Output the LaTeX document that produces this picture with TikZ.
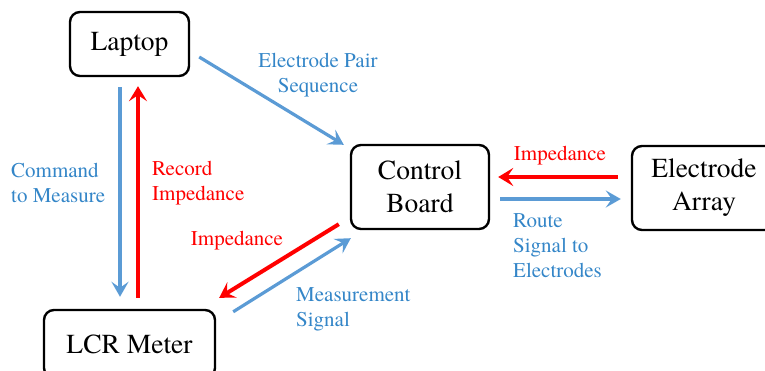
\documentclass[tikz,border=0pt]{standalone}
\usepackage{fontspec}
\setmainfont{TeX Gyre Termes}
\usepackage{tikz}
\usetikzlibrary{arrows.meta,calc}
\definecolor{arrowblue}{RGB}{91,155,213}
\definecolor{textblue}{RGB}{52,134,200}
\definecolor{arrowred}{RGB}{255,0,0}
\tikzstyle{block} = [draw=black, fill=white, line width=2.4pt,
    rectangle, rounded corners=10pt, align=center,
    font=\fontsize{27.5}{33}\selectfont]
\tikzstyle{bluelabel} = [text=textblue, inner sep=0pt,
    font=\fontsize{21}{25}\selectfont]
\tikzstyle{redlabel} = [text=arrowred, inner sep=0pt,
    font=\fontsize{21}{25}\selectfont]
\tikzstyle{bluearrow} = [draw=arrowblue, line width=3.2pt,
    -{Stealth[length=15pt, width=17pt, inset=6pt]}]
\tikzstyle{redarrow} = [draw=arrowred, line width=4pt,
    -{Stealth[length=15pt, width=18pt, inset=6pt]}]

\begin{document}
\begin{tikzpicture}[x=1pt, y=-1pt]
\clip (0,0) rectangle (765,371);
% boxes
\node [block, minimum width=119pt, minimum height=64pt] (laptop) at (129.5,44) {Laptop};
\node [block, minimum width=138pt, minimum height=84pt] (board) at (420,187) {Control\\Board};
\node [block, minimum width=144pt, minimum height=84pt] (array) at (704,188) {Electrode\\Array};
\node [block, minimum width=171pt, minimum height=68pt] (lcr) at (129.5,344) {LCR Meter};

% arrows
\draw [bluearrow] ($(laptop.east)+(9,13)$) -- ($(board.north west)+(-6,1)$);
\draw [bluearrow] ($(laptop.south)+(-9.5,10)$) -- ($(lcr.north)+(-9.5,-12)$);
\draw [redarrow] ($(lcr.north)+(8.5,-11)$) -- ($(laptop.south)+(8.5,9)$);
\draw [redarrow] ($(board.south west)+(-11,-6)$) -- ($(lcr.north east)+(3,-11)$);
\draw [bluearrow] ($(lcr.north east)+(17,3)$) -- ($(board.south west)+(1,8)$);
\draw [redarrow] ($(array.west)+(-13,-11)$) -- ($(board.east)+(8,-10)$);
\draw [bluearrow] ($(board.east)+(10,12)$) -- ($(array.west)+(-10,11)$);

% labels
\node [bluelabel, align=center] (seqlabel) at (318,75) {Electrode Pair\\Sequence};
\node [bluelabel, align=left, anchor=west] (cmdlabel) at (11,183) {Command\\to Measure};
\node [redlabel, align=left, anchor=west] (reclabel) at (152,183) {Record\\Impedance};
\node [redlabel] (implabel) at (237,241) {Impedance};
\node [bluelabel, align=left, anchor=west] (measlabel) at (296,309) {Measurement\\Signal};
\node [redlabel] (imparray) at (560,156) {Impedance};
\node [bluelabel, align=left, anchor=west] (routelabel) at (513,246) {Route\\Signal to\\Electrodes};
\end{tikzpicture}
\end{document}
